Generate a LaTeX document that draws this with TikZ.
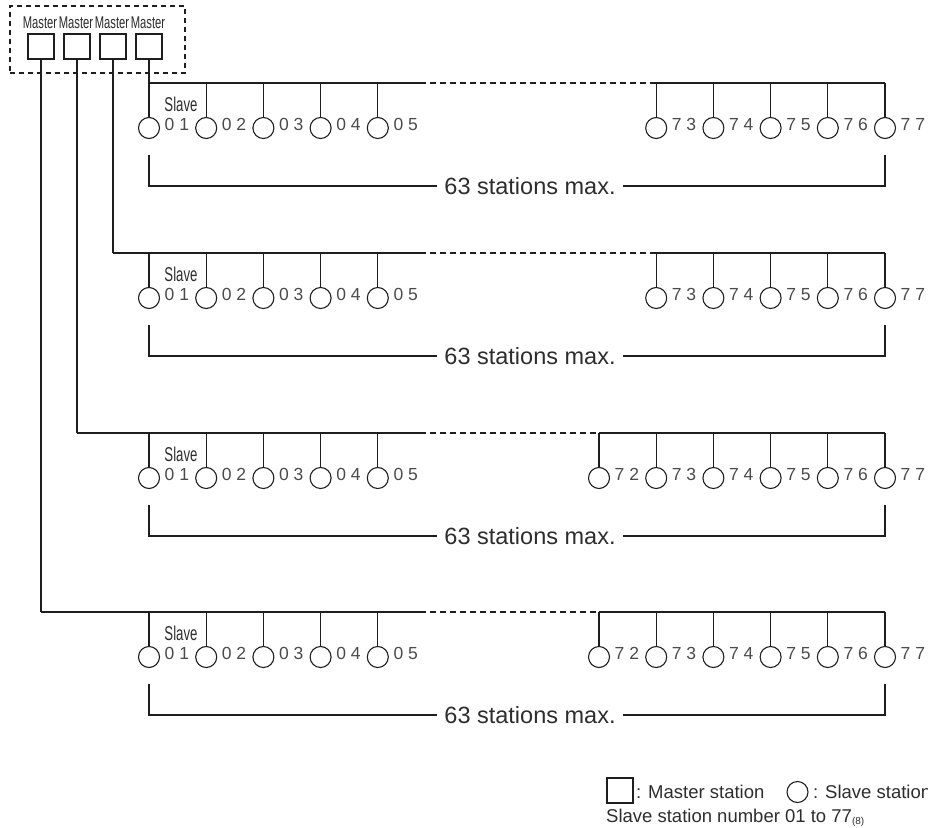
\documentclass[tikz,border=0pt]{standalone}
\usepackage{fontspec}
\setmainfont{Liberation Sans}
\newfontfamily\narrowfont[FakeStretch=0.66]{Liberation Sans}
\usetikzlibrary{positioning}
\definecolor{linegray}{RGB}{30,30,30}
\definecolor{textgray}{RGB}{45,45,45}
\definecolor{numgray}{RGB}{75,75,75}

\begin{document}
\begin{tikzpicture}[
  x=1pt, y=-1pt,
  master/.style={rectangle, draw=linegray, line width=1.1pt, minimum width=26pt,
    minimum height=25pt, inner sep=0pt},
  slave/.style={circle, draw=linegray, line width=1.1pt, minimum size=21pt, inner sep=0pt},
  wire/.style={draw=linegray, line width=1.1pt},
  bus/.style={wire, line width=1.3pt},
  grpbox/.style={rectangle, draw=linegray, line width=1.1pt, dash pattern=on 5pt off 4pt,
    minimum width=175pt, minimum height=67pt},
  mlbl/.style={font=\narrowfont\fontsize{17}{18}\selectfont, text=textgray, inner sep=0pt},
  slbl/.style={font=\narrowfont\fontsize{20}{21}\selectfont, text=textgray, inner sep=0pt},
  numlbl/.style={font=\fontsize{17.5}{19}\selectfont, text=numgray, inner sep=0pt,
    anchor=base west},
  capt/.style={font=\fontsize{23.5}{26}\selectfont, text=textgray, inner xsep=7pt, inner ysep=0pt},
  legend/.style={font=\fontsize{18.5}{20}\selectfont, text=textgray, inner sep=0pt, anchor=west},
]
\useasboundingbox (0,0) rectangle (928,827);

% === Master stations ===
\node[grpbox] (grp) at (97.5,39.5) {};
\foreach \m/\x in {1/41, 2/77, 3/113, 4/149} {
  \node[master] (m\m) at (\x,46.5) {};
  \node[mlbl] (ml\m) at (\x-1,23) {Master};
}

% === One line per master ===
\foreach \r/\y/\mx/\first in {1/83/149/73, 2/253/113/73, 3/433/77/72, 4/612/41/72} {
  \pgfmathtruncatemacro\m{5-\r}
  \coordinate (b\r) at (\mx,\y);
  \coordinate (d\r) at (420,\y);
  \draw[wire] (m\m.south) -- (b\r);

  % slaves 01 to 05
  \foreach \i in {1,...,5} {
    \pgfmathsetmacro\xx{149+(\i-1)*57.2}
    \coordinate (t\r-\i) at (\xx,\y);
    \node[slave] (s\r-\i) at (\xx,\y+45) {};
    \node[numlbl] (n\r-\i) at (\xx+15.5,\y+47) {0 \i};
    \draw[wire] (t\r-\i) -- (s\r-\i);
  }
  \node[slbl] (sl\r) at (181,\y+21) {Slave};

  % slaves up to 77
  \foreach \n in {\first,...,77} {
    \pgfmathsetmacro\xx{885-(77-\n)*57.2}
    \pgfmathtruncatemacro\unit{\n-70}
    \coordinate (t\r-\n) at (\xx,\y);
    \node[slave] (s\r-\n) at (\xx,\y+45) {};
    \node[numlbl] (n\r-\n) at (\xx+15.5,\y+47) {7 \unit};
    \draw[wire] (t\r-\n) -- (s\r-\n);
  }

  % bus
  \draw[bus] (b\r) -- (d\r);
  \draw[bus, dash pattern=on 6pt off 4pt] (d\r) -- (t\r-\first);
  \draw[bus] (t\r-\first) -- (t\r-77);

  % span
  \coordinate (kl\r) at (149,\y+72);
  \coordinate (kr\r) at (885,\y+72);
  \node[capt] (c\r) at (530,\y+103) {63 stations max.};
  \draw[wire] (kl\r) |- (c\r.west);
  \draw[wire] (c\r.east) -| (kr\r);
}

% === Legend ===
\node[master] (lgm) at (620,790.5) {};
\node[legend] (lgmt) at (636,792) {: Master station};
\node[slave] (lgs) at (797.5,792) {};
\node[legend] (lgst) at (813,792) {: Slave station};
\node[legend] (lgn) at (606,818)
  {Slave station number 01 to 77{\fontsize{10}{10}\selectfont\raisebox{-2pt}{(8)}}};

\end{tikzpicture}
\end{document}
